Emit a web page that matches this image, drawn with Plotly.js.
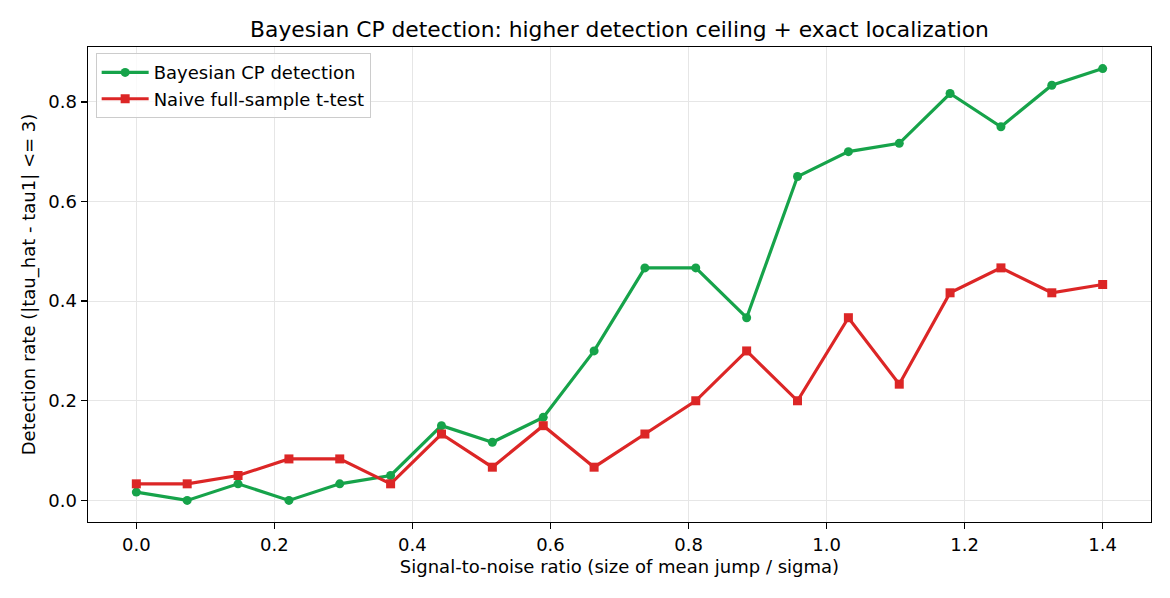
<!DOCTYPE html>
<html>
<head>
<meta charset="utf-8">
<script src="https://cdn.plot.ly/plotly-3.0.1.min.js"></script>
<style>
  html, body { margin: 0; padding: 0; background: #ffffff; }
  #chart { width: 1170px; height: 598px; }
</style>
</head>
<body>
<div id="chart"></div>
<script>
// Signal-to-noise ratios tested
const snr = [0.0, 0.0737, 0.1474, 0.2211, 0.2947, 0.3684, 0.4421, 0.5158, 0.5895, 0.6632,
             0.7368, 0.8105, 0.8842, 0.9579, 1.0316, 1.1053, 1.1789, 1.2526, 1.3263, 1.4];

// Detection rate: fraction of runs with |tau_hat - tau1| <= 3
const bayesRate = [0.0167, 0.0, 0.0333, 0.0, 0.0333, 0.05, 0.15, 0.1167, 0.1667, 0.3,
                   0.4667, 0.4667, 0.3667, 0.65, 0.7, 0.7167, 0.8167, 0.75, 0.8333, 0.8667];
const naiveRate = [0.0333, 0.0333, 0.05, 0.0833, 0.0833, 0.0333, 0.1333, 0.0667, 0.15, 0.0667,
                   0.1333, 0.2, 0.3, 0.2, 0.3667, 0.2333, 0.4167, 0.4667, 0.4167, 0.4333];

const seriesNames = ["Bayesian CP detection", "Naive full-sample t-test"];
const xTicks = [0.0, 0.2, 0.4, 0.6, 0.8, 1.0, 1.2, 1.4];
const yTicks = [0.0, 0.2, 0.4, 0.6, 0.8];

const FONT = "DejaVu Sans, sans-serif";
const GREEN = "#16a34a";
const RED = "#dc2626";
const LABEL = 18;

const traces = [
  {
    x: snr, y: bayesRate, name: seriesNames[0], type: "scatter", mode: "lines+markers",
    line: { color: GREEN, width: 3.2 },
    marker: { color: GREEN, symbol: "circle", size: 9 }
  },
  {
    x: snr, y: naiveRate, name: seriesNames[1], type: "scatter", mode: "lines+markers",
    line: { color: RED, width: 3.2 },
    marker: { color: RED, symbol: "square", size: 9 }
  }
];

const axisCommon = {
  showline: true, mirror: true, linecolor: "#000000", linewidth: 1.4,
  ticks: "outside", ticklen: 6, tickwidth: 1.4, tickcolor: "#000000",
  showgrid: true, gridcolor: "#e6e6e6", gridwidth: 1.2,
  zeroline: false, tickfont: { family: FONT, size: LABEL, color: "#000000" },
  tickformat: ".1f"
};

const layout = {
  width: 1170, height: 598,
  paper_bgcolor: "#ffffff", plot_bgcolor: "#ffffff",
  margin: { l: 88, r: 18.5, t: 47, b: 76 },
  font: { family: FONT, color: "#000000" },
  title: {
    text: "Bayesian CP detection: higher detection ceiling + exact localization",
    font: { family: FONT, size: 21.8, color: "#000000" },
    x: 0.5, xanchor: "center", xref: "paper",
    y: 1 - 29 / 598, yanchor: "middle", yref: "container"
  },
  xaxis: Object.assign({}, axisCommon, {
    range: [-0.07, 1.47], tickvals: xTicks,
    title: { text: "Signal-to-noise ratio (size of mean jump / sigma)",
             font: { family: FONT, size: LABEL, color: "#000000" }, standoff: 6 }
  }),
  yaxis: Object.assign({}, axisCommon, {
    range: [-0.0433, 0.91], tickvals: yTicks,
    title: { text: "Detection rate (|tau_hat - tau1| <= 3)",
             font: { family: FONT, size: LABEL, color: "#000000" }, standoff: 8 }
  }),
  showlegend: true,
  legend: {
    x: 0.0072, y: 0.987, xanchor: "left", yanchor: "top",
    bgcolor: "rgba(255,255,255,0.8)", bordercolor: "#cccccc", borderwidth: 1,
    font: { family: FONT, size: LABEL, color: "#000000" },
    itemwidth: 47, tracegroupgap: 0
  }
};

Plotly.newPlot("chart", traces, layout, { displayModeBar: false, staticPlot: true });
</script>
</body>
</html>
